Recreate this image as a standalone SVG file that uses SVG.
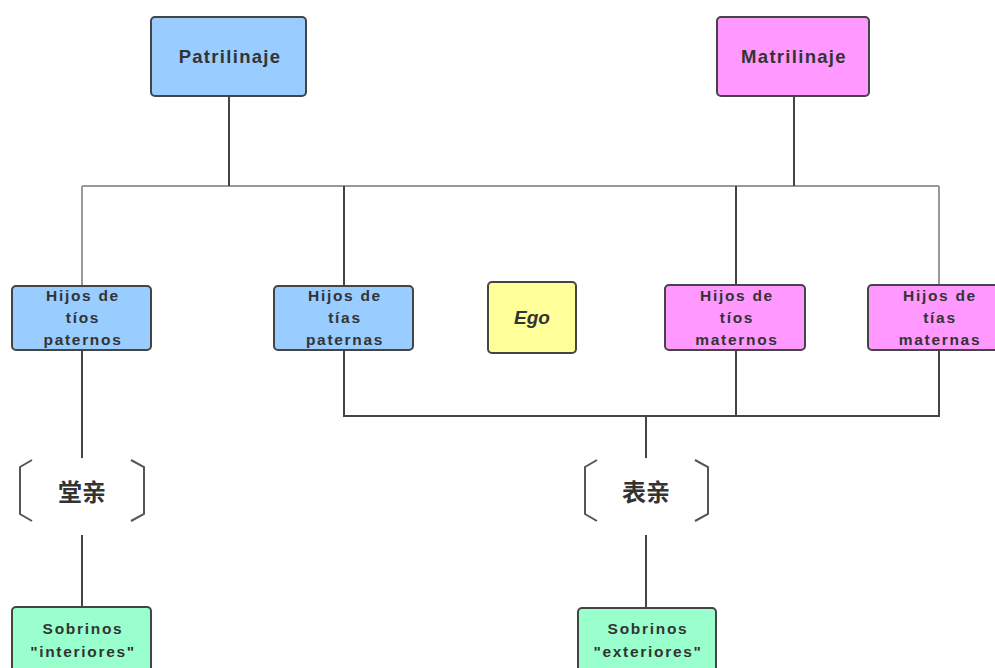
<svg xmlns="http://www.w3.org/2000/svg" width="995" height="668" viewBox="0 0 995 668">
<style>
.box{stroke:#444;stroke-width:2}
.blue{fill:#99ccff}.pink{fill:#ff99ff}.yellow{fill:#ffff99}.green{fill:#99ffcc}
.t{font-family:"Liberation Sans",Arial,sans-serif;font-weight:bold;fill:#333;text-anchor:middle}
.big{font-size:18.5px;letter-spacing:1.3px}
.sm{font-size:15.5px;letter-spacing:1.7px}
.cjk{font-family:"Noto Sans CJK SC",sans-serif;font-weight:bold;font-size:24px;fill:#333;text-anchor:middle}
.dk{stroke:#444;stroke-width:2;fill:none}
.gr{stroke:#999;stroke-width:2;fill:none}
.br{stroke:#555;stroke-width:2;fill:none}
</style>
<rect width="995" height="668" fill="#fff"/>
<g id="connectors">
<line class="gr" x1="82" y1="186" x2="939" y2="186"/>
<line class="gr" x1="82" y1="186" x2="82" y2="286"/>
<line class="gr" x1="939" y1="186" x2="939" y2="286"/>
<line class="dk" x1="229" y1="96" x2="229" y2="186"/>
<line class="dk" x1="794" y1="96" x2="794" y2="186"/>
<line class="dk" x1="344" y1="186" x2="344" y2="286"/>
<line class="dk" x1="736" y1="186" x2="736" y2="286"/>
<line class="dk" x1="82" y1="350" x2="82" y2="458"/>
<polyline class="dk" points="344,350 344,416 939,416 939,350"/>
<line class="dk" x1="736" y1="350" x2="736" y2="416"/>
<line class="dk" x1="646" y1="416" x2="646" y2="458"/>
<line class="dk" x1="82" y1="535" x2="82" y2="607"/>
<line class="dk" x1="646" y1="535" x2="646" y2="607"/>
</g>
<g id="patrilinaje">
<rect class="box blue" x="151" y="17" width="155" height="79" rx="4"/>
<text class="t big" x="230" y="63">Patrilinaje</text>
</g>
<g id="matrilinaje">
<rect class="box pink" x="717" y="17" width="152" height="79" rx="4"/>
<text class="t big" x="794" y="63">Matrilinaje</text>
</g>
<g id="tios-paternos">
<rect class="box blue" x="12" y="286" width="139" height="64" rx="4"/>
<text class="t sm" x="83" y="301">Hijos de</text>
<text class="t sm" x="83" y="323">tíos</text>
<text class="t sm" x="83" y="345">paternos</text>
</g>
<g id="tias-paternas">
<rect class="box blue" x="274" y="286" width="139" height="64" rx="4"/>
<text class="t sm" x="345" y="301">Hijos de</text>
<text class="t sm" x="345" y="323">tías</text>
<text class="t sm" x="345" y="345">paternas</text>
</g>
<g id="ego">
<rect class="box yellow" x="488" y="282" width="88" height="71" rx="4"/>
<text class="t" x="532" y="324" font-size="19" font-style="italic">Ego</text>
</g>
<g id="tios-maternos">
<rect class="box pink" x="665" y="285" width="140" height="65" rx="4"/>
<text class="t sm" x="737" y="301">Hijos de</text>
<text class="t sm" x="737" y="323">tíos</text>
<text class="t sm" x="737" y="345">maternos</text>
</g>
<g id="tias-maternas">
<rect class="box pink" x="868" y="285" width="140" height="65" rx="4"/>
<text class="t sm" x="940" y="301">Hijos de</text>
<text class="t sm" x="940" y="323">tías</text>
<text class="t sm" x="940" y="345">maternas</text>
</g>
<g id="tangqin">
<path class="br" d="M32,460 L20,467 L20,514 L32,521"/>
<path class="br" d="M131,460 L144,467 L144,514 L131,521"/>
<text class="cjk" x="82" y="501">堂亲</text>
</g>
<g id="biaoqin">
<path class="br" d="M597,460 L585,467 L585,514 L597,521"/>
<path class="br" d="M695,460 L708,467 L708,514 L695,521"/>
<text class="cjk" x="646" y="501">表亲</text>
</g>
<g id="sobrinos-interiores">
<rect class="box green" x="12" y="607" width="139" height="75" rx="4"/>
<text class="t sm" x="83" y="634">Sobrinos</text>
<text class="t sm" x="83" y="657">"interiores"</text>
</g>
<g id="sobrinos-exteriores">
<rect class="box green" x="578" y="608" width="138" height="75" rx="4"/>
<text class="t sm" x="648" y="634">Sobrinos</text>
<text class="t sm" x="648" y="657">"exteriores"</text>
</g>
</svg>
